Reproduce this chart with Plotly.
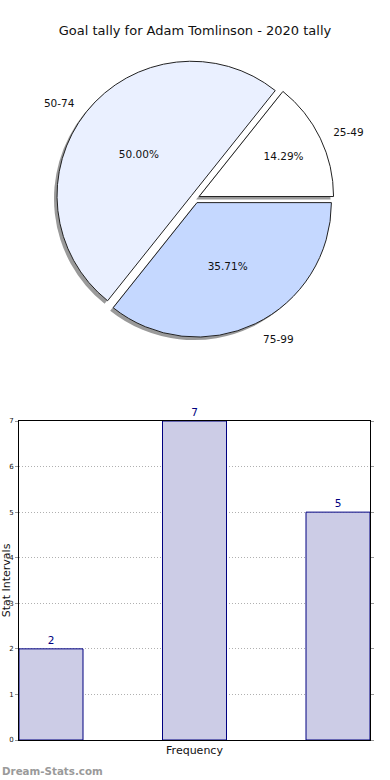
import plotly.graph_objects as go

title_text = "Goal tally for Adam Tomlinson - 2020 tally"
pie_labels = ["25-49", "50-74", "75-99"]
pie_values = [2, 7, 5]
pie_colors = ["#ffffff", "#eaf0ff", "#c5d8ff"]

bar_x = [0, 1, 2]
bar_values = [2, 7, 5]
y_ticks = [0, 1, 2, 3, 4, 5, 6, 7]

W, H = 390, 780
def px_x(v):
    return v / W
def px_y(v):
    return 1 - v / H

# first slice starts at 3 o'clock and runs counterclockwise
rot = 90 - 360 * pie_values[0] / sum(pie_values)

# pie geometry (pixels)
cx, cy, R = 195, 198.5, 139
RL = R + 11  # radius of the (invisible) label ring
pull = 0.034
sh = 3  # shadow offset

fig = go.Figure()

# shadow
fig.add_trace(go.Pie(
    labels=pie_labels, values=pie_values, sort=False, direction="counterclockwise",
    rotation=rot, pull=[pull] * 3,
    marker=dict(colors=["#9a9a9a"] * 3, line=dict(width=0)),
    textinfo="none", hoverinfo="skip", showlegend=False,
    domain=dict(x=[px_x(cx - R - sh), px_x(cx + R - sh)], y=[px_y(cy + R + sh), px_y(cy - R + sh)]),
))
# main pie with percentages inside
fig.add_trace(go.Pie(
    labels=pie_labels, values=pie_values, sort=False, direction="counterclockwise",
    rotation=rot, pull=[pull] * 3,
    marker=dict(colors=pie_colors, line=dict(color="#222222", width=1)),
    texttemplate="%{percent:.2%}", textposition="inside", insidetextorientation="horizontal",
    textfont=dict(family="DejaVu Sans", size=10.5, color="#111111"),
    showlegend=False,
    domain=dict(x=[px_x(cx - R), px_x(cx + R)], y=[px_y(cy + R), px_y(cy - R)]),
))
# outside labels
fig.add_trace(go.Pie(
    labels=pie_labels, values=pie_values, sort=False, direction="counterclockwise",
    rotation=rot, pull=[pull] * 3,
    marker=dict(colors=["rgba(0,0,0,0)"] * 3, line=dict(width=0)),
    textinfo="label", textposition="outside",
    textfont=dict(family="DejaVu Sans", size=10.5, color="#111111"),
    hoverinfo="skip", showlegend=False,
    domain=dict(x=[px_x(cx - RL), px_x(cx + RL)], y=[px_y(cy + RL), px_y(cy - RL)]),
))

fig.add_trace(go.Bar(
    x=bar_x, y=bar_values, width=0.446,
    marker=dict(color="#ccccE6", line=dict(color="#000080", width=1)),
    text=bar_values, texttemplate="%{y}", textposition="outside",
    textfont=dict(family="DejaVu Sans", size=10.5, color="#000080"),
    cliponaxis=False, showlegend=False,
))

fig.update_layout(
    width=W, height=H,
    margin=dict(l=0, r=0, t=0, b=0),
    paper_bgcolor="white", plot_bgcolor="white",
    font=dict(family="DejaVu Sans", color="#111111"),
    title=dict(text=title_text, x=0.5, xanchor="center", y=px_y(30), yanchor="middle",
               font=dict(family="DejaVu Sans", size=13, color="#111111")),
    xaxis=dict(domain=[px_x(19), px_x(370)], range=[-0.223, 2.223],
               showticklabels=False, ticks="", showgrid=False, zeroline=False,
               showline=True, linecolor="black", linewidth=1, mirror=True,
               title=dict(text="Frequency", standoff=6, font=dict(size=11)),
               automargin=False),
    yaxis=dict(domain=[px_y(740), px_y(421)], range=[0, 7],
               tickvals=y_ticks, tickfont=dict(size=7),
               ticks="outside", ticklen=3, tickcolor="#999999", mirror="ticks",
               showgrid=True, gridcolor="#b0b0b0", griddash="1px,2px", gridwidth=1,
               zeroline=False, showline=True, linecolor="black", linewidth=1,
               title=dict(text="Stat Intervals", standoff=3, font=dict(size=11)),
               automargin=False),
    annotations=[dict(text="<b>Dream-Stats.com</b>", x=0, y=px_y(771), xref="paper", yref="paper",
                      xanchor="left", yanchor="middle", showarrow=False,
                      font=dict(family="DejaVu Sans", size=10.3, color="#9a9a9a"))],
)

fig.write_html("out.html", config={"displayModeBar": False},
               post_script="document.body.style.margin='0px';")
